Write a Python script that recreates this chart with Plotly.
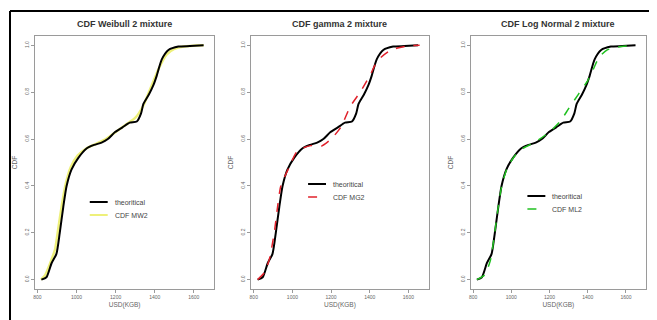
import plotly.graph_objects as go

# ---- data ----
titles = ["CDF Weibull 2 mixture", "CDF gamma 2 mixture", "CDF Log Normal 2 mixture"]
fit_names = ["CDF MW2", "CDF MG2", "CDF ML2"]
fit_colors = ["#eef07a", "#e0202a", "#20c020"]
fit_dash = ["solid", "dash", "dash"]

emp_x = [820, 846, 872, 897, 914, 932, 949, 974, 1009, 1051, 1090, 1128, 1160, 1197, 1235,
         1272, 1308, 1330, 1342, 1370, 1393, 1410, 1436, 1470, 1521, 1580, 1650]
emp_y = [0.0, 0.01, 0.07, 0.11, 0.20, 0.31, 0.40, 0.47, 0.52, 0.56, 0.575, 0.585, 0.60, 0.63, 0.65,
         0.67, 0.675, 0.71, 0.75, 0.79, 0.83, 0.87, 0.94, 0.98, 0.995, 0.997, 1.0]

mw2_x = [818, 840, 865, 890, 905, 925, 945, 970, 1005, 1050, 1100, 1150, 1200, 1250, 1300,
         1340, 1380, 1420, 1460, 1500, 1550, 1650]
mw2_y = [0.0, 0.02, 0.07, 0.13, 0.21, 0.32, 0.41, 0.48, 0.53, 0.56, 0.58, 0.60, 0.63, 0.66, 0.69,
         0.74, 0.82, 0.90, 0.96, 0.985, 0.995, 1.0]

mg2_x = [820, 855, 880, 906, 923, 940, 983, 1026, 1094, 1150, 1200, 1250, 1300, 1350, 1400,
         1430, 1460, 1500, 1550, 1600, 1658]
mg2_y = [0.0, 0.03, 0.085, 0.20, 0.31, 0.40, 0.48, 0.55, 0.572, 0.57, 0.60, 0.65, 0.74, 0.80, 0.87,
         0.92, 0.95, 0.975, 0.99, 0.998, 1.0]

ml2_x = [820, 860, 890, 910, 930, 950, 980, 1020, 1060, 1120, 1200, 1260, 1300, 1350, 1400,
         1430, 1460, 1500, 1560, 1650]
ml2_y = [0.0, 0.02, 0.08, 0.18, 0.30, 0.40, 0.48, 0.53, 0.56, 0.585, 0.63, 0.68, 0.73, 0.79, 0.85,
         0.90, 0.95, 0.98, 0.993, 1.0]

fits = [(mw2_x, mw2_y), (mg2_x, mg2_y), (ml2_x, ml2_y)]

x_ticks = [800, 1000, 1200, 1400, 1600]
y_ticks = [0.0, 0.2, 0.4, 0.6, 0.8, 1.0]
x_label = "USD(KGB)"
y_label = "CDF"
emp_name = "theoritical"

# ---- layout geometry (reference pixel coordinates) ----
WIN_W, WIN_H = 657, 320
OFF = 8                      # default body margin of the page
W, H = WIN_W - OFF, WIN_H - OFF
panels_px = [(33, 213), (250, 428), (470, 646)]
top_px, bot_px = 36, 289
legend_px = [(88, 202), (307, 184), (527, 196)]   # left of line sample, first row y
ROW = 13
SAMPLE = 18

def fx(px):
    return (px - OFF) / W

def fy(py):
    return 1 - (py - OFF) / H

fig = go.Figure()
font_fam = "Liberation Sans, Arial, sans-serif"

for i in range(3):
    xa = "x" if i == 0 else f"x{i+1}"
    ya = "y" if i == 0 else f"y{i+1}"
    fxs, fys = fits[i]
    if i == 0:
        fig.add_trace(go.Scatter(x=fxs, y=fys, mode="lines", name=fit_names[i],
                                 line=dict(color=fit_colors[i], width=2.5, shape="spline", smoothing=0.6),
                                 xaxis=xa, yaxis=ya, showlegend=False))
    fig.add_trace(go.Scatter(x=emp_x, y=emp_y, mode="lines", name=emp_name,
                             line=dict(color="black", width=2.0, shape="spline", smoothing=0.6),
                             xaxis=xa, yaxis=ya, showlegend=False))
    if i > 0:
        fig.add_trace(go.Scatter(x=fxs, y=fys, mode="lines", name=fit_names[i],
                                 line=dict(color=fit_colors[i], width=1.5,
                                           dash=fit_dash[i], shape="spline", smoothing=0.6),
                                 xaxis=xa, yaxis=ya, showlegend=False))

axis_common = dict(showgrid=False, zeroline=False, showline=True, mirror=True,
                   linecolor="#9a9a9a", linewidth=1, ticks="outside", ticklen=3,
                   tickcolor="#9a9a9a", tickfont=dict(size=5, color="#666", family=font_fam))

layout = dict(width=W, height=H, margin=dict(l=0, r=0, t=0, b=0),
              paper_bgcolor="white", plot_bgcolor="white", showlegend=False)

for i, (l, r) in enumerate(panels_px):
    xk = "xaxis" if i == 0 else f"xaxis{i+1}"
    yk = "yaxis" if i == 0 else f"yaxis{i+1}"
    xa = "x" if i == 0 else f"x{i+1}"
    ya = "y" if i == 0 else f"y{i+1}"
    layout[xk] = dict(axis_common, domain=[fx(l), fx(r)], range=[787, 1705],
                      tickvals=x_ticks, ticktext=[str(v) for v in x_ticks], anchor=ya,
                      title=dict(text=x_label, font=dict(size=6.5, color="#666", family=font_fam),
                                 standoff=3))
    layout[yk] = dict(axis_common, domain=[fy(bot_px), fy(top_px)], range=[-0.04, 1.04],
                      tickvals=y_ticks, ticktext=[f"{v:.1f}" for v in y_ticks], tickangle=-90,
                      anchor=xa,
                      title=dict(text=y_label, font=dict(size=6.5, color="#666", family=font_fam),
                                 standoff=5))

fig.update_layout(**layout)

for i, (l, r) in enumerate(panels_px):
    fig.add_annotation(x=fx((l + r) / 2), y=fy(24), xref="paper", yref="paper",
                       text=f"<b>{titles[i]}</b>", showarrow=False,
                       font=dict(size=9, color="#333", family=font_fam),
                       xanchor="center", yanchor="middle")
    # legend (no box, like R's bty="n")
    lx, ly = legend_px[i]
    entries = [(emp_name, "black", 2.0, "solid"),
               (fit_names[i], fit_colors[i], 2.0 if i == 0 else 1.5, fit_dash[i])]
    for k, (name, col, wd, dsh) in enumerate(entries):
        yy = ly + k * ROW
        fig.add_shape(type="line", xref="paper", yref="paper",
                      x0=fx(lx), x1=fx(lx + SAMPLE), y0=fy(yy), y1=fy(yy),
                      line=dict(color=col, width=wd, dash="dash" if dsh == "dash" else "solid"))
        fig.add_annotation(x=fx(lx + SAMPLE + 5), y=fy(yy), xref="paper", yref="paper",
                           text=name, showarrow=False, xanchor="left", yanchor="middle",
                           font=dict(size=7, color="#444", family=font_fam))

# outer black frame (cropped on the right and bottom)
fig.add_shape(type="line", xref="paper", yref="paper", x0=fx(8), x1=1.0, y0=fy(11), y1=fy(11),
              line=dict(color="black", width=2))
fig.add_shape(type="line", xref="paper", yref="paper", x0=fx(8), x1=fx(8), y0=0.0, y1=fy(11),
              line=dict(color="black", width=2))

fig.write_html("out.html")
